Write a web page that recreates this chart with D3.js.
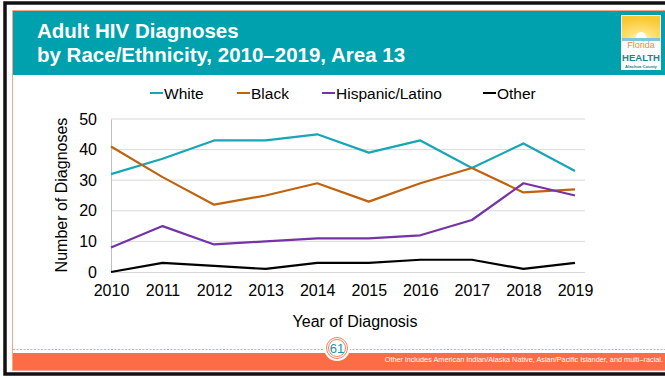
<!DOCTYPE html>
<html>
<head>
<meta charset="utf-8">
<script src="https://cdn.jsdelivr.net/npm/d3@7"></script>
<style>
  html, body { margin: 0; padding: 0; background: #fff; }
  svg { display: block; font-family: "Liberation Sans", Arial, sans-serif; }
</style>
</head>
<body>
<svg id="chart" width="665" height="378"></svg>
<script>
// Yearly adult HIV diagnoses, Area 13
const years = [2010, 2011, 2012, 2013, 2014, 2015, 2016, 2017, 2018, 2019];
const white    = [32, 37, 43, 43, 45, 39, 43, 34, 42, 33];
const black    = [41, 31, 22, 25, 29, 23, 29, 34, 26, 27];
const hispanic = [8, 15, 9, 10, 11, 11, 12, 17, 29, 25];
const other    = [0, 3, 2, 1, 3, 3, 4, 4, 1, 3];
const seriesNames = ["White", "Black", "Hispanic/Latino", "Other"];
const yTicks = [0, 10, 20, 30, 40, 50];

const colors = ["#17A6B5", "#C0620E", "#7434A5", "#000000"];
const series = [white, black, hispanic, other].map((v, i) => ({ name: seriesNames[i], values: v, color: colors[i] }));

const svg = d3.select("#chart");
const W = 665, H = 378;

// Slide frame
svg.append("rect").attr("x", 0).attr("y", 0).attr("width", W).attr("height", H).attr("fill", "#fff");
svg.append("rect").attr("x", 5).attr("y", 3).attr("width", W + 10).attr("height", 371)
  .attr("fill", "none").attr("stroke", "#111").attr("stroke-width", 3.5);
svg.append("rect").attr("x", 12.5).attr("y", 10.5).attr("width", W).attr("height", 360)
  .attr("fill", "none").attr("stroke", "#F7A58E").attr("stroke-width", 1);

// Header band
svg.append("rect").attr("x", 13).attr("y", 11).attr("width", W - 13).attr("height", 64).attr("fill", "#00A1AF");
const title = svg.append("text").attr("fill", "#fff").attr("font-weight", "bold").attr("font-size", 20.5);
title.append("tspan").attr("x", 37).attr("y", 38).text("Adult HIV Diagnoses");
title.append("tspan").attr("x", 37).attr("y", 62).text("by Race/Ethnicity, 2010–2019, Area 13");

// Logo
const logo = svg.append("g").attr("transform", "translate(621,15)");
logo.append("rect").attr("width", 40).attr("height", 55).attr("fill", "#fff");
const sunGrad = svg.append("defs").append("radialGradient").attr("id", "sun").attr("cx", "50%").attr("cy", "100%").attr("r", "90%");
sunGrad.append("stop").attr("offset", "0%").attr("stop-color", "#fffbe0");
sunGrad.append("stop").attr("offset", "35%").attr("stop-color", "#FFE27A");
sunGrad.append("stop").attr("offset", "100%").attr("stop-color", "#F9C833");
logo.append("rect").attr("x", 1).attr("y", 1).attr("width", 38).attr("height", 23).attr("fill", "url(#sun)");
logo.append("circle").attr("cx", 20).attr("cy", 22).attr("r", 5).attr("fill", "#fff");
logo.append("rect").attr("x", 1).attr("y", 23).attr("width", 38).attr("height", 3).attr("fill", "#7CC6D8");
logo.append("text").attr("x", 20).attr("y", 33).attr("text-anchor", "middle").attr("font-size", 9)
  .attr("font-family", "Liberation Sans Narrow, Arial Narrow, sans-serif").attr("fill", "#F58B3C").text("Florida");
logo.append("text").attr("x", 20).attr("y", 45.5).attr("text-anchor", "middle").attr("font-size", 9.5).attr("font-weight", "bold")
  .attr("font-family", "Liberation Sans Narrow, Arial Narrow, sans-serif").attr("fill", "#14868F").text("HEALTH");
logo.append("text").attr("x", 20).attr("y", 52.5).attr("text-anchor", "middle").attr("font-size", 4.2).attr("font-weight", "bold")
  .attr("fill", "#14868F").text("Alachua County");

// Plot area
const x = d3.scalePoint().domain(years).range([111, 575]);
const y = d3.scaleLinear().domain([0, 50]).range([272, 119]);

// Gridlines
svg.append("g").selectAll("line").data(yTicks.slice(1)).join("line")
  .attr("x1", 111).attr("x2", 585).attr("y1", d => y(d)).attr("y2", d => y(d))
  .attr("stroke", "#D9D9D9").attr("stroke-width", 1);

// Axes
const yAxis = svg.append("g").attr("transform", "translate(111,0)")
  .call(d3.axisLeft(y).tickValues(yTicks).tickSize(0).tickPadding(14));
yAxis.select(".domain").attr("stroke", "#BFBFBF");
yAxis.selectAll("text").attr("font-size", 16).attr("fill", "#000").attr("font-family", "Liberation Sans, Arial, sans-serif");

const xAxis = svg.append("g").attr("transform", "translate(0,272)")
  .call(d3.axisBottom(x).tickSize(0).tickPadding(13).tickFormat(d3.format("d")));
xAxis.select(".domain").attr("stroke", "#D9D9D9").attr("d", "M111,0.5H585");
xAxis.selectAll("text").attr("font-size", 16).attr("fill", "#000").attr("font-family", "Liberation Sans, Arial, sans-serif");

// Axis titles
svg.append("text").attr("x", 355).attr("y", 327).attr("text-anchor", "middle").attr("font-size", 16).text("Year of Diagnosis");
svg.append("text").attr("transform", "translate(67,195) rotate(-90)").attr("text-anchor", "middle")
  .attr("font-size", 16).text("Number of Diagnoses");

// Series lines
const line = d3.line().x((d, i) => x(years[i])).y(d => y(d));
svg.append("g").selectAll("path").data(series).join("path")
  .attr("d", d => line(d.values)).attr("fill", "none")
  .attr("stroke", d => d.color).attr("stroke-width", 2.2).attr("stroke-linejoin", "round");

// Legend
const legendX = [150, 237, 322, 483];
const legend = svg.append("g").selectAll("g").data(series).join("g")
  .attr("transform", (d, i) => `translate(${legendX[i]},93)`);
legend.append("line").attr("x1", 0).attr("x2", 13).attr("y1", 0).attr("y2", 0)
  .attr("stroke", d => d.color).attr("stroke-width", 2);
legend.append("text").attr("x", 14).attr("y", 5.5).attr("font-size", 15.5).text(d => d.name);

// Footer
svg.append("line").attr("x1", 13).attr("x2", W).attr("y1", 349.5).attr("y2", 349.5)
  .attr("stroke", "#F7A58E").attr("stroke-width", 1).attr("stroke-dasharray", "2,1.5");
svg.append("rect").attr("x", 13).attr("y", 353).attr("width", W - 13).attr("height", 17).attr("fill", "#FC6C45");
svg.append("circle").attr("cx", 337).attr("cy", 348).attr("r", 13).attr("fill", "#fff");
svg.append("circle").attr("cx", 337).attr("cy", 348).attr("r", 10.5).attr("fill", "#fff").attr("stroke", "#F9805F").attr("stroke-width", 1);
svg.append("circle").attr("cx", 337).attr("cy", 348).attr("r", 8.5).attr("fill", "#fff").attr("stroke", "#F9805F").attr("stroke-width", 1);
svg.append("text").attr("x", 337).attr("y", 353).attr("text-anchor", "middle").attr("font-size", 13).attr("fill", "#1797A6").text("61");
svg.append("text").attr("x", 663).attr("y", 362).attr("text-anchor", "end").attr("font-size", 7.3).attr("fill", "#fff")
  .text("Other includes American Indian/Alaska Native, Asian/Pacific Islander, and multi\u2013racial.");
</script>
</body>
</html>
